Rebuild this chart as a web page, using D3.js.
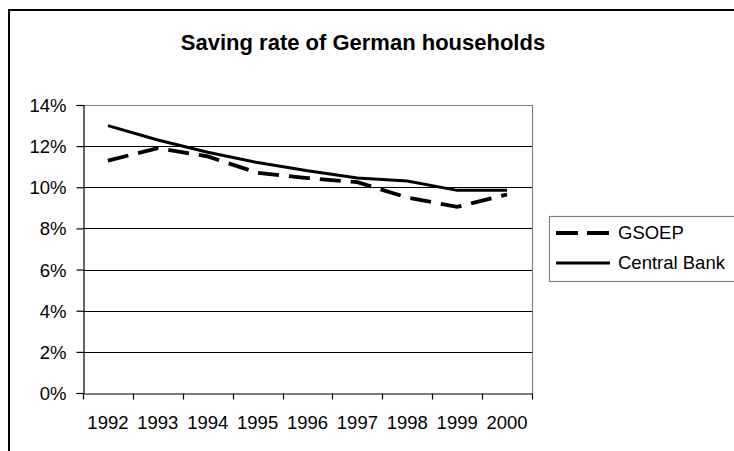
<!DOCTYPE html>
<html><head><meta charset="utf-8">
<script src="https://cdn.jsdelivr.net/npm/d3@7"></script>
<style>body{margin:0;background:#fff}svg{display:block}text{font-family:"Liberation Sans",Arial,sans-serif;fill:#000}</style>
</head><body>
<script>
const years = ["1992","1993","1994","1995","1996","1997","1998","1999","2000"];
const gsoep = [11.3, 11.9, 11.5, 10.7, 10.45, 10.25, 9.5, 9.05, 9.65];
const centralBank = [13.0, 12.3, 11.7, 11.2, 10.8, 10.45, 10.3, 9.85, 9.85];
const yTicks = [0, 2, 4, 6, 8, 10, 12, 14];
const seriesNames = ["GSOEP", "Central Bank"];

(function () {
const W = 734, H = 451;
const svg = d3.select("body").append("svg").attr("width", W).attr("height", H);
svg.append("rect").attr("width", W).attr("height", H).attr("fill", "#fff");

// outer chart frame
svg.append("rect").attr("x", 9).attr("y", 10).attr("width", 740).attr("height", 460)
  .attr("fill", "none").attr("stroke", "#000").attr("stroke-width", 2);

// title
svg.append("text").attr("x", 363).attr("y", 50).attr("text-anchor", "middle")
  .attr("font-size", 22).attr("font-weight", "bold")
  .text("Saving rate of German households");

const pl = 83, pr = 532, pt = 105, pb = 393;
const x = d3.scaleBand().domain(years).range([pl, pr]);
const y = d3.scaleLinear().domain([0, 14]).range([pb, pt]);

// gridlines
svg.append("g").selectAll("line").data(yTicks.filter(d => d > 0 && d < 14)).join("line")
  .attr("x1", pl).attr("x2", pr)
  .attr("y1", d => Math.round(y(d)) + 0.5).attr("y2", d => Math.round(y(d)) + 0.5)
  .attr("stroke", "#000").attr("stroke-width", 1);
// plot border top/right (gray)
svg.append("path")
  .attr("d", `M${pl},${Math.round(y(14))+0.5}H${pr+0.5}V${pb}`)
  .attr("fill", "none").attr("stroke", "#808080").attr("stroke-width", 1.2);

// y axis
const yAxis = d3.axisLeft(y).tickValues(yTicks).tickFormat(d => d + "%").tickSize(7).tickPadding(10);
const gy = svg.append("g").attr("transform", `translate(${pl + 0.5},0)`).call(yAxis);
gy.selectAll("text").attr("font-size", 18.5).attr("font-family", '"Liberation Sans",Arial,sans-serif').attr("dy", "0.35em");
gy.select(".domain").attr("stroke", "#000").attr("stroke-width", 1.2);
gy.selectAll(".tick line").attr("stroke", "#000").attr("stroke-width", 1.2);

// x axis
const xAxis = d3.axisBottom(x).tickSize(0).tickPadding(22);
const gx = svg.append("g").attr("transform", `translate(0,${pb + 0.5})`).call(xAxis);
gx.select(".domain").attr("stroke", "#000").attr("stroke-width", 1.2);
gx.selectAll("text").attr("font-size", 18.5).attr("font-family", '"Liberation Sans",Arial,sans-serif');
// category boundary ticks
const bounds = years.map(d => x(d)).concat([x(years[years.length - 1]) + x.bandwidth()]);
gx.append("g").selectAll("line").data(bounds).join("line")
  .attr("x1", d => Math.round(d) + 0.5).attr("x2", d => Math.round(d) + 0.5)
  .attr("y1", 0).attr("y2", 6).attr("stroke", "#000").attr("stroke-width", 1.2);

// lines
const line = d3.line().x((d, i) => x(years[i]) + x.bandwidth() / 2).y(d => y(d));
svg.append("path").datum(centralBank).attr("d", line)
  .attr("fill", "none").attr("stroke", "#000").attr("stroke-width", 3);
svg.append("path").datum(gsoep).attr("d", line)
  .attr("fill", "none").attr("stroke", "#000").attr("stroke-width", 3.8)
  .attr("stroke-dasharray", "21,10");

// legend
const lg = svg.append("g");
lg.append("rect").attr("x", 549.5).attr("y", 216.5).attr("width", 200).attr("height", 65)
  .attr("fill", "#fff").attr("stroke", "#808080").attr("stroke-width", 1.2);
const legendItems = [
  {name: seriesNames[0], dash: "22,9", w: 3.8, y: 233},
  {name: seriesNames[1], dash: null, w: 3, y: 263}
];
legendItems.forEach(it => {
  const l = lg.append("line").attr("x1", 556).attr("x2", 610).attr("y1", it.y).attr("y2", it.y)
    .attr("stroke", "#000").attr("stroke-width", it.w);
  if (it.dash) l.attr("stroke-dasharray", it.dash);
  lg.append("text").attr("x", 618).attr("y", it.y).attr("dy", "0.35em")
    .attr("font-size", 18.5).text(it.name);
});
})();
</script>
</body></html>
